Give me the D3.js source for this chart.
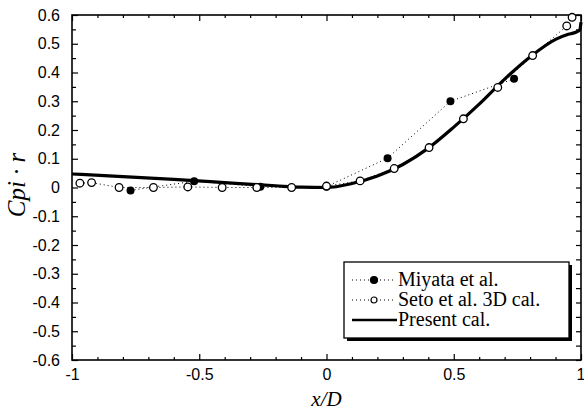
<!DOCTYPE html>
<html>
<head>
<meta charset="utf-8">
<script src="https://cdn.jsdelivr.net/npm/d3@7"></script>
<style>
	body { margin: 0; background: #fff; }
	svg { display: block; }
</style>
</head>
<body>
<div id="plot"></div>
<script>

// Miyata et al. (filled)
const miyataX = [ -0.77, -0.52, -0.26, 0.0, 0.24, 0.487, 0.737 ];
const miyataY = [ -0.01, 0.022, 0.003, 0.003, 0.102, 0.30, 0.378 ];

// Seto et al. 3D cal. (open)
const setoX = [ -0.969, -0.923, -0.815, -0.68, -0.545, -0.41, -0.274, -0.137, 0.0, 0.132, 0.266, 0.403, 0.538, 0.673, 0.81, 0.944, 0.965 ];
const setoY = [ 0.015, 0.017, 0.0, 0.0, 0.002, 0.0, 0.0, 0.0, 0.005, 0.023, 0.066, 0.139, 0.239, 0.348, 0.459, 0.562, 0.592 ];

// Present cal. (solid)
const presentX = [ -1, -0.8, -0.6, -0.4, -0.2, -0.1, 0, 0.1, 0.2, 0.3, 0.4, 0.5, 0.6, 0.7, 0.8, 0.9, 0.95, 0.98, 0.995, 1.0 ];
const presentY = [ 0.047, 0.038, 0.028, 0.017, 0.006, 0.001, 0.0, 0.014, 0.04, 0.08, 0.137, 0.21, 0.29, 0.377, 0.454, 0.515, 0.533, 0.54, 0.548, 0.575 ];

const xTicks = [ -1, -0.5, 0, 0.5, 1 ];
const xTickLabels = [ "-1", "-0.5", "0", "0.5", "1" ];
const yTicks = [ 0.6, 0.5, 0.4, 0.3, 0.2, 0.1, 0, -0.1, -0.2, -0.3, -0.4, -0.5, -0.6 ];
const yTickLabels = [ "0.6", "0.5", "0.4", "0.3", "0.2", "0.1", "0", "-0.1", "-0.2", "-0.3", "-0.4", "-0.5", "-0.6" ];

const legendLabels = [ "Miyata et al.", "Seto et al. 3D cal.", "Present cal." ];

///////////////////////////////////////////////////////////////////////

const W = 584, H = 410;
const margin = { left: 72, right: 3, top: 15, bottom: 50 };
const iw = W - margin.left - margin.right;
const ih = H - margin.top - margin.bottom;

const svg = d3.select( "#plot" ).append( "svg" )
	.attr( "width", W )
	.attr( "height", H );

const g = svg.append( "g" )
	.attr( "transform", `translate(${margin.left},${margin.top})` );

const x = d3.scaleLinear().domain( [ -1, 1 ] ).range( [ 0, iw ] );
const y = d3.scaleLinear().domain( [ -0.6, 0.6 ] ).range( [ ih, 0 ] );

const xMinor = d3.range( -10, 11 ).map( d => d / 10 ).filter( d => !xTicks.includes( d ) );
const yMinor = d3.range( -12, 13 ).map( d => d / 20 ).filter( d => Math.abs( d * 10 - Math.round( d * 10 ) ) > 1e-6 );

function styleAxis( sel )	{
	sel.select( ".domain" ).remove();
	sel.selectAll( "line" ).attr( "stroke", "#000" ).attr( "stroke-width", 1.2 );
	sel.selectAll( "text" )
		.attr( "fill", "#000" )
		.style( "font-family", "Liberation Sans, Arial, sans-serif" )
		.style( "font-size", "16px" );
}

// bottom
g.append( "g" ).attr( "transform", `translate(0,${ih})` )
	.call( d3.axisBottom( x ).tickValues( xTicks ).tickSize( -6 ).tickPadding( 9 )
		.tickFormat( ( d, i ) => xTickLabels[ i ] ) )
	.call( styleAxis )
	.call( sel => sel.selectAll( "text" ).filter( d => d == 1 )
		.attr( "text-anchor", "end" ).attr( "x", 4 ) );
g.append( "g" ).attr( "transform", `translate(0,${ih})` )
	.call( d3.axisBottom( x ).tickValues( xMinor ).tickSize( -3 ).tickFormat( "" ) )
	.call( styleAxis );
// top
g.append( "g" )
	.call( d3.axisTop( x ).tickValues( xTicks ).tickSize( -6 ).tickFormat( "" ) )
	.call( styleAxis );
g.append( "g" )
	.call( d3.axisTop( x ).tickValues( xMinor ).tickSize( -3 ).tickFormat( "" ) )
	.call( styleAxis );
// left
g.append( "g" )
	.call( d3.axisLeft( y ).tickValues( yTicks ).tickSize( -6 ).tickPadding( 12 )
		.tickFormat( ( d, i ) => yTickLabels[ i ] ) )
	.call( styleAxis );
g.append( "g" )
	.call( d3.axisLeft( y ).tickValues( yMinor ).tickSize( -4 ).tickFormat( "" ) )
	.call( styleAxis );
// right
g.append( "g" ).attr( "transform", `translate(${iw},0)` )
	.call( d3.axisRight( y ).tickValues( yTicks ).tickSize( -5 ).tickFormat( "" ) )
	.call( styleAxis );
g.append( "g" ).attr( "transform", `translate(${iw},0)` )
	.call( d3.axisRight( y ).tickValues( yMinor ).tickSize( -5 ).tickFormat( "" ) )
	.call( styleAxis );

// frame
g.append( "rect" )
	.attr( "width", iw ).attr( "height", ih )
	.attr( "fill", "none" )
	.attr( "stroke", "#000" )
	.attr( "stroke-width", 1.6 );

// series
const miyata = miyataX.map( ( d, i ) => [ d, miyataY[ i ] ] );
const seto = setoX.map( ( d, i ) => [ d, setoY[ i ] ] );
const present = presentX.map( ( d, i ) => [ d, presentY[ i ] ] );

const straight = d3.line().x( d => x( d[ 0 ] ) ).y( d => y( d[ 1 ] ) );
const smooth = d3.line().x( d => x( d[ 0 ] ) ).y( d => y( d[ 1 ] ) ).curve( d3.curveMonotoneX );

g.append( "path" ).datum( miyata )
	.attr( "d", straight )
	.attr( "fill", "none" ).attr( "stroke", "#000" )
	.attr( "stroke-width", 1 ).attr( "stroke-dasharray", "1,3" );

g.append( "path" ).datum( seto )
	.attr( "d", straight )
	.attr( "fill", "none" ).attr( "stroke", "#000" )
	.attr( "stroke-width", 1 ).attr( "stroke-dasharray", "1,3" );

g.selectAll( ".miyata" ).data( miyata ).join( "circle" )
	.attr( "class", "miyata" )
	.attr( "cx", d => x( d[ 0 ] ) ).attr( "cy", d => y( d[ 1 ] ) )
	.attr( "r", 4 ).attr( "fill", "#000" );

g.append( "path" ).datum( present )
	.attr( "d", smooth )
	.attr( "fill", "none" ).attr( "stroke", "#000" )
	.attr( "stroke-width", 3.2 ).attr( "stroke-linejoin", "round" );

g.selectAll( ".seto" ).data( seto ).join( "circle" )
	.attr( "class", "seto" )
	.attr( "cx", d => x( d[ 0 ] ) ).attr( "cy", d => y( d[ 1 ] ) )
	.attr( "r", 3.8 ).attr( "fill", "#fff" )
	.attr( "stroke", "#000" ).attr( "stroke-width", 1.3 );

// axis titles
svg.append( "text" )
	.attr( "transform", "translate(25,185) rotate(-90)" )
	.attr( "text-anchor", "middle" )
	.style( "font-family", "Liberation Serif, Times New Roman, serif" )
	.style( "font-style", "italic" )
	.style( "font-size", "25px" )
	.text( "Cpi · r" );

svg.append( "text" )
	.attr( "x", margin.left + x( 0 ) ).attr( "y", 406 )
	.attr( "text-anchor", "middle" )
	.style( "font-family", "Liberation Serif, Times New Roman, serif" )
	.style( "font-style", "italic" )
	.style( "font-size", "21px" )
	.text( "x/D" );

// legend
const lg = svg.append( "g" ).attr( "transform", "translate(344,262)" );
lg.append( "rect" ).attr( "x", 3 ).attr( "y", 3 ).attr( "width", 225 ).attr( "height", 76 ).attr( "fill", "#000" );
lg.append( "rect" ).attr( "width", 225 ).attr( "height", 76 )
	.attr( "fill", "#fff" ).attr( "stroke", "#000" ).attr( "stroke-width", 1.3 );

legendLabels.forEach( ( label, i ) => {
	let row = lg.append( "g" ).attr( "transform", `translate(0,${ 18 + i * 20 })` );
	if( i < 2 )	{
		row.append( "line" )
			.attr( "x1", 8 ).attr( "x2", 52 )
			.attr( "stroke", "#000" ).attr( "stroke-width", 1 ).attr( "stroke-dasharray", "1,3" );
		row.append( "circle" )
			.attr( "cx", 30 ).attr( "r", i == 0 ? 3.5 : 3 )
			.attr( "fill", i == 0 ? "#000" : "#fff" )
			.attr( "stroke", "#000" ).attr( "stroke-width", 1.2 );
	}
	else	{
		row.append( "line" )
			.attr( "x1", 8 ).attr( "x2", 53 )
			.attr( "stroke", "#000" ).attr( "stroke-width", 2.5 );
	}
	row.append( "text" )
		.attr( "x", 54 ).attr( "y", 6 )
		.style( "font-family", "Liberation Serif, Times New Roman, serif" )
		.style( "font-size", "20px" )
		.text( label );
} );

</script>
</body>
</html>
